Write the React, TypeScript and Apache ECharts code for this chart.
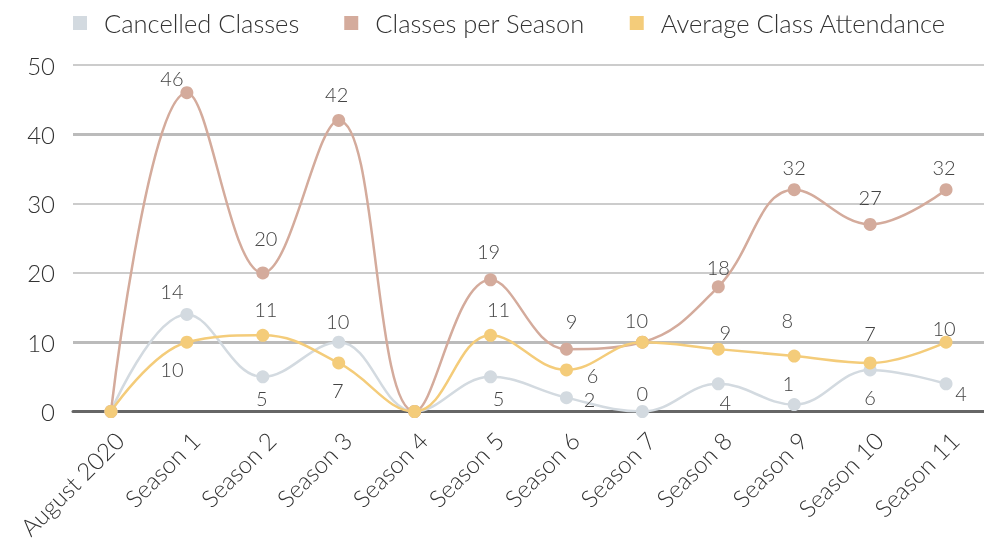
import React, { useEffect, useRef } from "react";
import * as echarts from "echarts";

const categories = ["August 2020", "Season 1", "Season 2", "Season 3", "Season 4", "Season 5", "Season 6", "Season 7", "Season 8", "Season 9", "Season 10", "Season 11"];
const cancelledClasses = [0, 14, 5, 10, 0, 5, 2, 0, 4, 1, 6, 4];
const classesPerSeason = [0, 46, 20, 42, 0, 19, 9, 10, 18, 32, 27, 32];
const avgAttendance = [0, 10, 11, 7, 0, 11, 6, 10, 9, 8, 7, 10];
const yTicks = [0, 10, 20, 30, 40, 50];

// label offsets from each point in pixels (style only; null = label hidden)
type Off = [number, number] | null;
const cancelledOff: Off[] = [null, [-15, -23], [-1, 21], [-1, -21], null, [8, 21], [23, 1], [0, -19], [7, 18], [-6, -22], [0, 27], [15, 9]];
const classesOff: Off[] = [null, [-15, -15], [3, -35], [-2, -26], null, [-2, -29], [5, -28], null, [0, -20], [0, -23], [0, -27], [-2, -23]];
const attendanceOff: Off[] = [null, [-15, 27], [3, -26], [-1, 27], null, [8, -26], [26, 5], [-6, -22], [7, -17], [-7, -36], [0, -30], [-2, -14]];

const FONT = "Lato, 'Noto Sans', sans-serif";

function buildData(values: number[], offs: Off[]) {
  return values.map((v, i) => {
    const o = offs[i];
    if (!o) return { value: v, label: { show: false } };
    return { value: v, label: { show: true, position: "inside", offset: o } };
  });
}

export default function App() {
  const ref = useRef<HTMLDivElement>(null);
  useEffect(() => {
    if (!ref.current) return;
    const chart = echarts.init(ref.current, null, { renderer: "svg" });
    const labelStyle = { color: "#444", fontSize: 20, lineHeight: 18, fontFamily: FONT, fontWeight: 300, align: "center", verticalAlign: "middle" };
    const mkSeries = (name: string, values: number[], offs: Off[], color: string, extra: any = {}) => ({
      name,
      type: "line",
      smooth: 0.4,
      symbol: "circle",
      symbolSize: 13,
      showSymbol: true,
      itemStyle: { color },
      lineStyle: { color, width: 2.5 },
      label: { ...labelStyle },
      data: buildData(values, offs),
      ...extra,
    });
    chart.setOption({
      animation: false,
      legend: {
        top: 5,
        left: 68,
        icon: "rect",
        itemWidth: 14,
        itemHeight: 14,
        itemGap: 45,
        textStyle: { color: "#333", fontSize: 25.5, fontFamily: FONT, fontWeight: 300, padding: [0, 0, 0, 12] },
        data: ["Cancelled Classes", "Classes per Season", "Average Class Attendance"],
      },
      grid: { left: 73, right: -2, top: 65, bottom: 131.5, containLabel: false },
      xAxis: {
        type: "category",
        data: categories,
        boundaryGap: true,
        axisTick: { show: false },
        axisLine: { lineStyle: { color: "#666", width: 3 } },
        axisLabel: { rotate: 45, margin: 16, verticalAlign: "top", color: "#333", fontSize: 24, fontFamily: FONT, fontWeight: 300, interval: 0 },
      },
      yAxis: {
        type: "value",
        min: yTicks[0],
        max: yTicks[yTicks.length - 1],
        interval: 10,
        axisLine: { show: false },
        axisTick: { show: false },
        axisLabel: { margin: 18, color: "#333", fontSize: 24, fontFamily: FONT, fontWeight: 300 },
        splitLine: { lineStyle: { color: "#bbb", width: 1.5 } },
      },
      series: [
        mkSeries("Cancelled Classes", cancelledClasses, cancelledOff, "#d3dae0", {
          markLine: {
            silent: true,
            symbol: "none",
            label: { show: false },
            lineStyle: { color: "#bbb", width: 3, type: "solid" },
            z: 0,
            data: [{ yAxis: 10 }, { yAxis: 40 }],
          },
        }),
        mkSeries("Classes per Season", classesPerSeason, classesOff, "#d4ab9c"),
        mkSeries("Average Class Attendance", avgAttendance, attendanceOff, "#f4cc7a"),
      ],
    });
    return () => chart.dispose();
  }, []);
  return <div ref={ref} style={{ position: "fixed", left: 0, top: 0, width: 984, height: 543 }} />;
}
